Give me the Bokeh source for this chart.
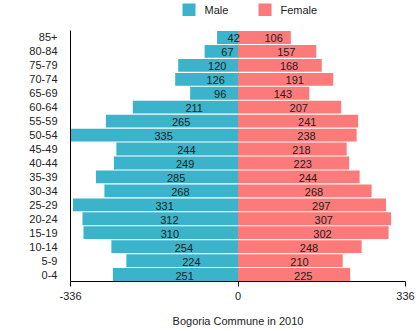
from bokeh.plotting import figure
from bokeh.layouts import column
from bokeh.models import ColumnDataSource, FixedTicker, Range1d
from bokeh.core.properties import value
from bokeh.embed import file_html
from bokeh.resources import INLINE

age_groups = ["0-4", "5-9", "10-14", "15-19", "20-24", "25-29", "30-34", "35-39",
              "40-44", "45-49", "50-54", "55-59", "60-64", "65-69", "70-74",
              "75-79", "80-84", "85+"]
male = [251, 224, 254, 310, 312, 331, 268, 285, 249, 244, 335, 265, 211, 96,
        126, 120, 67, 42]
female = [225, 210, 248, 302, 307, 297, 268, 244, 223, 218, 238, 241, 207, 143,
          191, 168, 157, 106]
series_names = ["Male", "Female"]
axis_max = 336
title_text = "Bogoria Commune in 2010"

MALE_C = "#3BB3CB"
FEMALE_C = "#FC7A7A"
FONT = "Liberation Sans"

src = ColumnDataSource(dict(
    age=age_groups,
    male_neg=[-v for v in male],
    male_mid=[-v / 2 for v in male],
    male_lbl=[str(v) for v in male],
    female=female,
    female_mid=[v / 2 for v in female],
    female_lbl=[str(v) for v in female],
))

p = figure(width=420, height=307, y_range=age_groups,
           x_range=Range1d(-axis_max, axis_max),
           output_backend="svg", toolbar_location=None,
           min_border_left=70, min_border_right=15,
           min_border_top=6, min_border_bottom=50)
p.outline_line_color = None
p.background_fill_color = "white"
p.border_fill_color = "white"

p.hbar(y="age", left="male_neg", right=0, height=0.92, source=src,
       fill_color=MALE_C, line_color=None)
p.hbar(y="age", left=0, right="female", height=0.92, source=src,
       fill_color=FEMALE_C, line_color=None)

p.text(x="male_mid", y="age", text="male_lbl", source=src,
       text_font=value(FONT), text_font_size="11px", text_color="#222222",
       text_align="left", text_baseline="alphabetic", y_offset=1)
p.text(x="female_mid", y="age", text="female_lbl", source=src,
       text_font=value(FONT), text_font_size="11px", text_color="#222222",
       text_align="left", text_baseline="alphabetic", y_offset=1)

p.xaxis.ticker = FixedTicker(ticks=[-axis_max, 0, axis_max])
p.xaxis.major_label_overrides = {-axis_max: "-336", 0: "0", axis_max: "336"}
p.xaxis.minor_tick_line_color = None
p.xaxis.major_tick_out = 5
p.xaxis.major_tick_in = 0
p.xaxis.axis_line_color = "black"
p.xaxis.major_tick_line_color = "black"
p.xaxis.major_label_text_font = FONT
p.xaxis.major_label_text_font_size = "11px"
p.xaxis.major_label_text_color = "#222222"
p.xaxis.major_label_standoff = 5
p.xaxis.axis_label = title_text
p.xaxis.axis_label_text_font = FONT
p.xaxis.axis_label_text_font_size = "11px"
p.xaxis.axis_label_text_font_style = "normal"
p.xaxis.axis_label_text_color = "#222222"
p.xaxis.axis_label_standoff = 12

p.yaxis.major_tick_line_color = None
p.yaxis.minor_tick_line_color = None
p.yaxis.axis_line_color = "black"
p.yaxis.major_label_text_font = FONT
p.yaxis.major_label_text_font_size = "11px"
p.yaxis.major_label_text_color = "#222222"
p.yaxis.major_label_standoff = 7

p.ygrid.grid_line_color = None
p.xgrid.grid_line_color = "#e0e0e0"

# Legend strip above the chart; its frame is aligned with the chart's frame,
# so its x range is expressed in page pixels (70..405)
lf = figure(width=420, height=24, x_range=Range1d(70, 405), y_range=Range1d(0, 24),
            output_backend="svg", toolbar_location=None,
            min_border_left=70, min_border_right=15,
            min_border_top=0, min_border_bottom=0)
lf.outline_line_color = None
lf.axis.visible = False
lf.grid.grid_line_color = None
leg = ColumnDataSource(dict(
    left=[182, 258], right=[195, 271], top=[21, 21], bottom=[8.5, 8.5],
    color=[MALE_C, FEMALE_C], tx=[204, 280], ty=[14.5, 14.5],
    label=series_names,
))
lf.quad(left="left", right="right", top="top", bottom="bottom",
        fill_color="color", line_color=None, source=leg)
lf.text(x="tx", y="ty", text="label", source=leg,
        text_font=value(FONT), text_font_size="11px", text_color="#222222",
        text_align="left", text_baseline="middle")

layout = column(lf, p, spacing=0)
open("out.html", "w").write(file_html(layout, INLINE))
